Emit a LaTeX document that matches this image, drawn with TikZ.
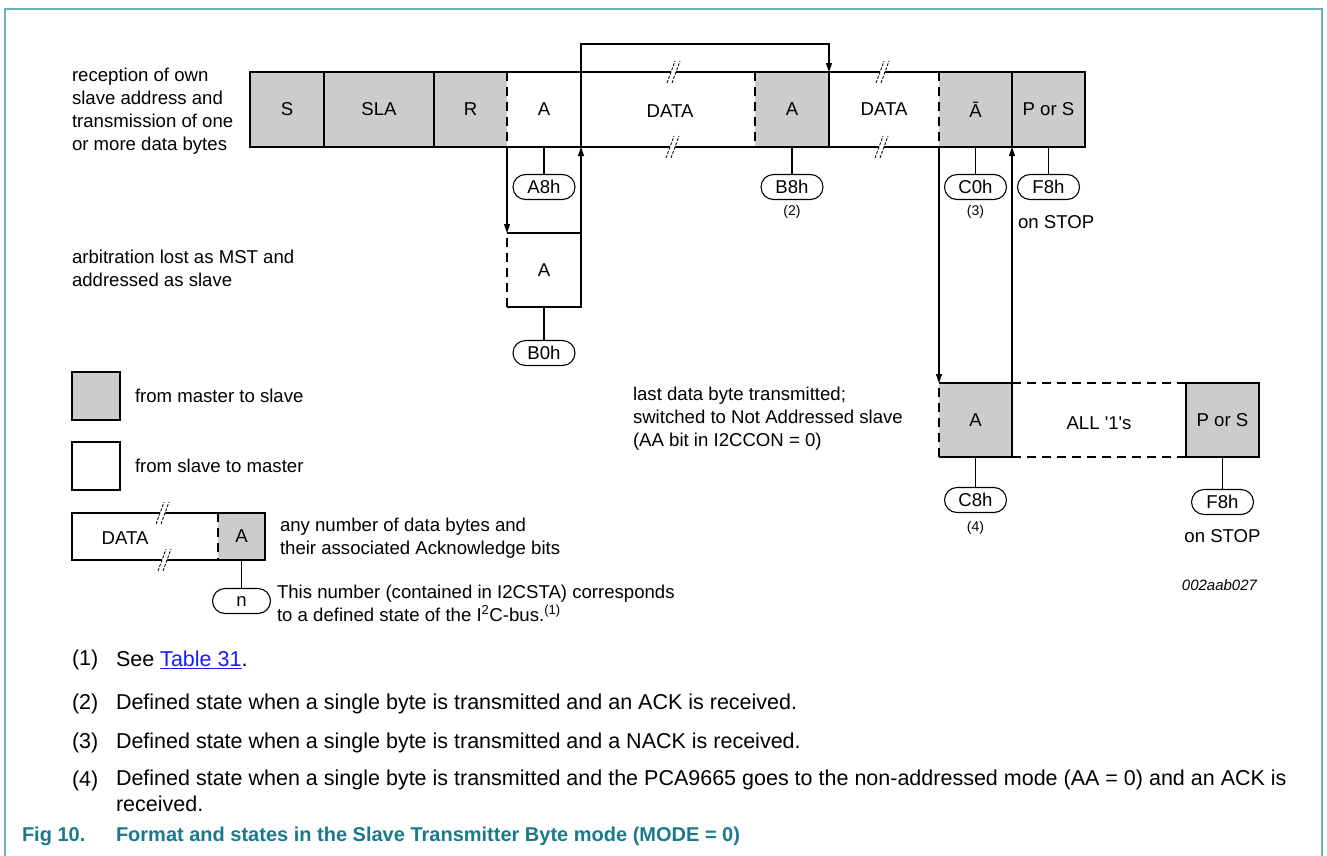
\documentclass[tikz,border=0pt]{standalone}
\usepackage{fontspec}
\setmainfont{Liberation Sans}
\usetikzlibrary{arrows.meta}
\definecolor{boxgray}{HTML}{CCCCCC}
\definecolor{framecol}{HTML}{6AB0BC}
\definecolor{capcol}{HTML}{1A7A8C}
\definecolor{linkcol}{HTML}{1A1AFF}
\begin{document}
\begin{tikzpicture}[x=1pt,y=-1pt,
  every node/.style={font=\fontsize{18.6}{23}\selectfont, inner sep=0pt, outer sep=0pt},
  cell/.style={minimum height=75pt},
  gcell/.style={cell, fill=boxgray},
  edge/.style={line width=2.8pt, line join=miter},
  dedge/.style={line width=2.8pt, dash pattern=on 9pt off 6pt},
  arr/.style={line width=1.1pt, -{Triangle[length=9pt,width=6pt]}},
  stem/.style={line width=1.1pt},
  oval/.style={draw, line width=1.1pt, rounded corners=12.5pt, minimum width=62pt, minimum height=25pt},
  small/.style={font=\fontsize{14}{16}\selectfont},
  foot/.style={font=\fontsize{21.5}{26}\selectfont},
  brk/.pic={
    \fill[white] (-7,11) -- (1,-11) -- (6,-11) -- (-2,11) -- cycle;
    \draw[line width=0.8pt, dash pattern=on 3pt off 1.5pt] (-7,11) -- (1,-11) (-2,11) -- (6,-11);
  }
]
\useasboundingbox (0,0) rectangle (1327,855);
% frame
\draw[framecol, line width=2pt] (5,856) -- (5,9) -- (1322,9) -- (1322,856);

% ---------- top row ----------
\node[gcell, minimum width=74pt] (S)   at (287,109.5) {S};
\node[gcell, minimum width=110pt] (SLA) at (379,109.5) {SLA};
\node[gcell, minimum width=73pt] (R)   at (470.5,109.5) {R};
\node[cell,  minimum width=74pt] (A1)  at (544,109.5) {A};
\node[cell,  minimum width=174pt] (D1) at (668,109.5) {};
\node (D1t) at (670,111.5) {DATA};
\node[gcell, minimum width=74pt] (A2)  at (792,109.5) {A};
\node[cell,  minimum width=110pt] (D2) at (884,109.5) {DATA};
\node[gcell, minimum width=73pt] (NA)  at (975.5,109.5) {\=A};
\node[gcell, minimum width=73pt] (PS)  at (1048.5,109.5) {P or S};
\draw[edge] (S.north west) rectangle (PS.south east);
\draw[edge] (S.north east) -- (S.south east);
\draw[edge] (SLA.north east) -- (SLA.south east);
\draw[dedge] (R.north east) -- (R.south east);
\draw[edge] (A1.north east) -- (A1.south east);
\draw[dedge] (D1.north east) -- (D1.south east);
\draw[edge] (A2.north east) -- (A2.south east);
\draw[dedge] (D2.north east) -- (D2.south east);
\draw[edge] (NA.north east) -- (NA.south east);
\pic at (674,72) {brk};
\pic at (673,147) {brk};
\pic at (883,72) {brk};
\pic at (882,147) {brk};

% loop-back arrow
\draw[arr] (D1.north west) -- ++(0,-28) -| (A2.north east);

% state ovals top
\node[oval] (A8h) at (544,187) {A8h};
\node[oval] (B8h) at (792,187) {B8h};
\node[oval] (C0h) at (975.5,187) {C0h};
\node[oval] (F8h) at (1048.5,187) {F8h};
\draw[stem] (A1.south) -- (A8h.north);
\draw[stem] (A2.south) -- (B8h.north);
\draw[stem] (NA.south) -- (C0h.north);
\draw[stem] (PS.south) -- (F8h.north);
\node[small] (n2) at (792,212) {(2)};
\node[small] (n3) at (975.5,212) {(3)};
\node[anchor=west] (stop1) at (1018,222) {on STOP};

% arbitration branch
\node[cell, minimum width=74pt, minimum height=74pt] (AB) at (544,270) {A};
\draw[edge] (AB.north west) -- (AB.north east) -- (AB.south east) -- (AB.south west);
\draw[dedge] (AB.south west) -- (AB.north west);
\draw[arr] (A1.south west) -- (AB.north west);
\draw[arr] (AB.north east) -- (A1.south east);
\node[oval] (B0h) at (544,353) {B0h};
\draw[stem] (AB.south) -- (B0h.north);

% lower row
\node[gcell, minimum width=73pt, minimum height=74pt] (LA) at (975.5,420) {A};
\node[cell, minimum width=174pt, minimum height=74pt] (ALL) at (1099,420) {};
\node (ALLt) at (1099,423) {ALL \textquotesingle 1\textquotesingle s};
\node[gcell, minimum width=73pt, minimum height=74pt] (LPS) at (1222.5,420) {P or S};
\draw[dedge] (LA.south west) -- (LA.north west);
\draw[edge] (LA.north west) -- (LA.north east) -- (LA.south east) -- (LA.south west);
\draw[dedge] (ALL.north west) -- (ALL.north east);
\draw[dedge] (ALL.south west) -- (ALL.south east);
\draw[edge] (LPS.north west) rectangle (LPS.south east);
\draw[arr] (NA.south west) -- (LA.north west);
\draw[arr] (LA.north east) -- (NA.south east);
\node[oval] (C8h) at (975.5,500) {C8h};
\node[oval] (F8h2) at (1222.5,502) {F8h};
\draw[stem] (LA.south) -- (C8h.north);
\draw[stem] (LPS.south) -- (F8h2.north);
\node[small] (n4) at (975.5,528) {(4)};
\node (stop2) at (1222.5,536) {on STOP};

% descriptive texts
\node[anchor=west, align=left] (t1) at (72,111.5) {reception of own\\slave address and\\transmission of one\\or more data bytes};
\node[anchor=west, align=left] (t2) at (72,268.5) {arbitration lost as MST and\\addressed as slave};
\node[anchor=west, align=left] (t3) at (633,418.5) {last data byte transmitted;\\switched to Not Addressed slave\\(AA bit in I2CCON = 0)};

% legend
\node[gcell, minimum width=48pt, minimum height=48pt, draw, line width=2.8pt] (L1) at (96,396) {};
\node[anchor=west] (L1t) at (135,396) {from master to slave};
\node[cell, minimum width=48pt, minimum height=48pt, draw, line width=2.8pt] (L2) at (96,466) {};
\node[anchor=west] (L2t) at (135,466) {from slave to master};
\node[cell, minimum width=146pt, minimum height=47pt] (LD) at (145,536.5) {};
\node (LDt) at (125,538) {DATA};
\node[gcell, minimum width=47pt, minimum height=47pt] (LAk) at (241.5,536.5) {A};
\draw[edge] (LD.north west) -- (LAk.north east) -- (LAk.south east) -- (LD.south west) -- cycle;
\draw[dedge] (LAk.north west) -- (LAk.south west);
\pic at (163,513) {brk};
\pic at (165,560) {brk};
\node[anchor=west, align=left] (L3t) at (280,538.5) {any number of data bytes and\\their associated Acknowledge bits};
\node[oval, minimum width=58pt] (nn) at (241.5,601) {n};
\draw[stem] (LAk.south) -- (nn.north);
\node[anchor=west, align=left] (L4t) at (277,603) {This number (contained in I2CSTA) corresponds\\to a defined state of the I\textsuperscript{2}C-bus.\textsuperscript{(1)}};

\node[anchor=east, font=\fontsize{15}{18}\selectfont\itshape] (code) at (1257,585) {002aab027};

% footnotes
\node[anchor=west, foot] (f1n) at (72,660) {(1)};
\node[anchor=west, foot] (f1) at (116,660) {See \textcolor{linkcol}{\underline{Table 31}}.};
\node[anchor=west, foot] (f2n) at (72,704) {(2)};
\node[anchor=west, foot] (f2) at (116,704) {Defined state when a single byte is transmitted and an ACK is received.};
\node[anchor=west, foot] (f3n) at (72,743) {(3)};
\node[anchor=west, foot] (f3) at (116,743) {Defined state when a single byte is transmitted and a NACK is received.};
\node[anchor=west, foot] (f4n) at (72,781) {(4)};
\node[anchor=north west, foot, align=left] (f4) at (116,770) {Defined state when a single byte is transmitted and the PCA9665 goes to the non-addressed mode (AA = 0) and an ACK is\\received.};

% caption
\node[anchor=west, text=capcol, font=\fontsize{20}{24}\selectfont\bfseries] (cap1) at (22,836) {Fig 10.};
\node[anchor=west, text=capcol, font=\fontsize{20}{24}\selectfont\bfseries] (cap2) at (116,836) {Format and states in the Slave Transmitter Byte mode (MODE = 0)};
\end{tikzpicture}
\end{document}
